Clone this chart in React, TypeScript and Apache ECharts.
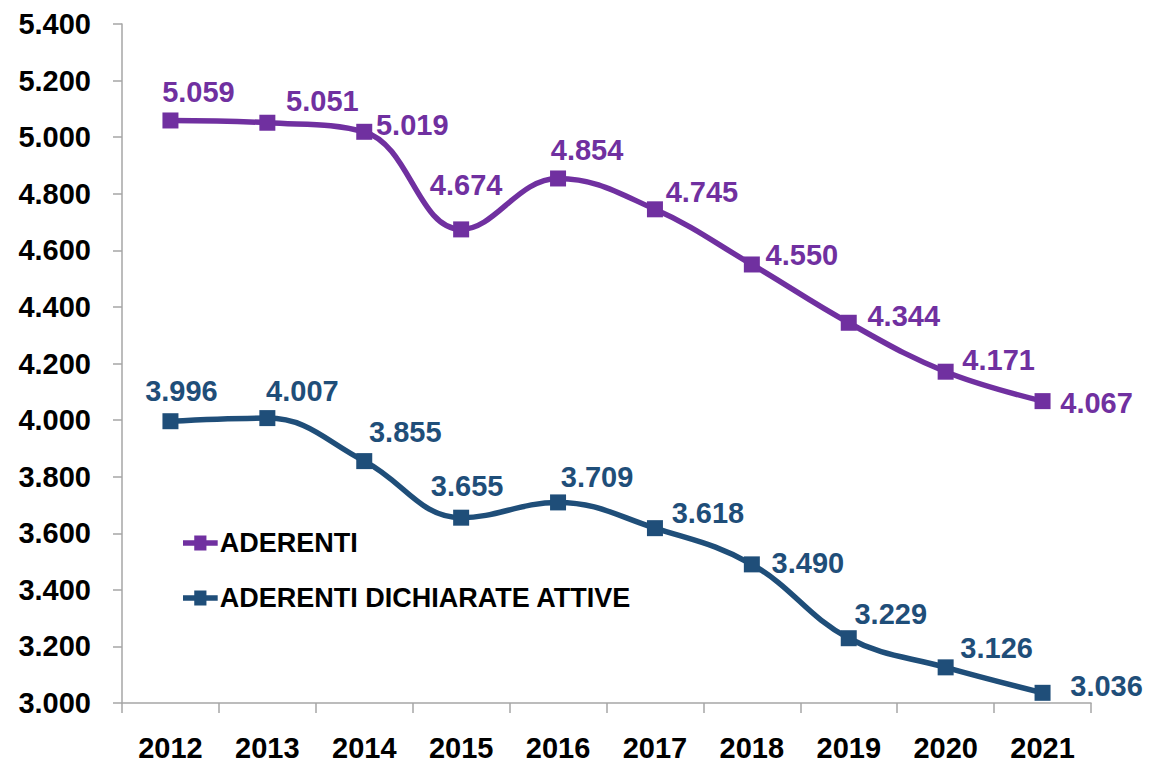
import React, { useEffect, useRef } from "react";
import * as echarts from "echarts";

const years = ["2012", "2013", "2014", "2015", "2016", "2017", "2018", "2019", "2020", "2021"];
const aderenti = [5059, 5051, 5019, 4674, 4854, 4745, 4550, 4344, 4171, 4067];
const aderentiAttive = [3996, 4007, 3855, 3655, 3709, 3618, 3490, 3229, 3126, 3036];
const seriesNames = ["ADERENTI", "ADERENTI DICHIARATE ATTIVE"];

// label offsets (styling only)
const purpleOffsets = [[28, -28], [55, -22], [48, -7], [5, -44], [29, -28], [47, -17], [50, -9], [55, -7], [53, -12], [54, 2]];
const blueOffsets = [[11, -30], [35, -27], [41, -29], [6, -32], [39, -25], [53, -15], [56, -1], [42, -24], [51, -19], [64, -7]];

const PURPLE = "#7030A0";
const BLUE = "#1F4E79";
const NUM_FONT = "'Liberation Sans', Arial, sans-serif";
const LEGEND_ICON = "path://M0,5H12V0H25V5H37V11H25V16H12V11H0Z";

const fmt = (v: number) => {
  const s = Math.round(v).toString();
  return s.length > 3 ? s.slice(0, s.length - 3) + "." + s.slice(s.length - 3) : s;
};

function buildData(values: number[], offsets: number[][], color: string) {
  return values.map((v, i) => ({
    value: v,
    label: {
      show: true,
      position: "inside",
      offset: offsets[i],
      formatter: () => fmt(v),
      color,
      fontFamily: NUM_FONT,
      fontWeight: "bold",
      fontSize: 29,
    },
  }));
}

export default function App() {
  const ref = useRef<HTMLDivElement>(null);
  useEffect(() => {
    if (!ref.current) return;
    const chart = echarts.init(ref.current, null, { renderer: "svg" });
    chart.setOption({
      animation: false,
      backgroundColor: "#ffffff",
      grid: { left: 122, right: 60, top: 24, bottom: 59, containLabel: false },
      legend: {
        orient: "vertical",
        left: 183,
        top: 527,
        padding: 0,
        itemWidth: 37,
        itemHeight: 15,
        itemGap: 23,
        icon: LEGEND_ICON,
        textStyle: {
          fontFamily: NUM_FONT,
          fontWeight: "bold",
          fontSize: 27,
          color: "#000",
          lineHeight: 32,
          padding: [0, 0, 0, -4],
        },
        data: seriesNames,
      },
      xAxis: {
        type: "category",
        data: years,
        boundaryGap: true,
        axisLine: { show: true, lineStyle: { color: "#a6a6a6", width: 1.5 } },
        axisTick: { show: true, alignWithLabel: false, length: 10, lineStyle: { color: "#a6a6a6", width: 1.5 } },
        axisLabel: {
          margin: 30,
          color: "#000",
          fontFamily: NUM_FONT,
          fontWeight: "bold",
          fontSize: 29,
        },
        splitLine: { show: false },
      },
      yAxis: {
        type: "value",
        min: 3000,
        max: 5400,
        interval: 200,
        axisLine: { show: true, lineStyle: { color: "#a6a6a6", width: 1.5 } },
        axisTick: { show: true, length: 9, lineStyle: { color: "#a6a6a6", width: 1.5 } },
        axisLabel: {
          margin: 31,
          color: "#000",
          fontFamily: NUM_FONT,
          fontWeight: "bold",
          fontSize: 29,
          formatter: (v: number) => fmt(v),
        },
        splitLine: { show: false },
      },
      series: [
        {
          name: seriesNames[0],
          type: "line",
          smooth: 0.4,
          symbol: "rect",
          symbolSize: 16,
          itemStyle: { color: PURPLE },
          lineStyle: { color: PURPLE, width: 5.5 },
          data: buildData(aderenti, purpleOffsets, PURPLE),
        },
        {
          name: seriesNames[1],
          type: "line",
          smooth: 0.4,
          symbol: "rect",
          symbolSize: 16,
          itemStyle: { color: BLUE },
          lineStyle: { color: BLUE, width: 5.5 },
          data: buildData(aderentiAttive, blueOffsets, BLUE),
        },
      ],
    });
    return () => chart.dispose();
  }, []);
  return <div ref={ref} style={{ width: 1151, height: 762, position: "absolute", left: 0, top: 0 }} />;
}
